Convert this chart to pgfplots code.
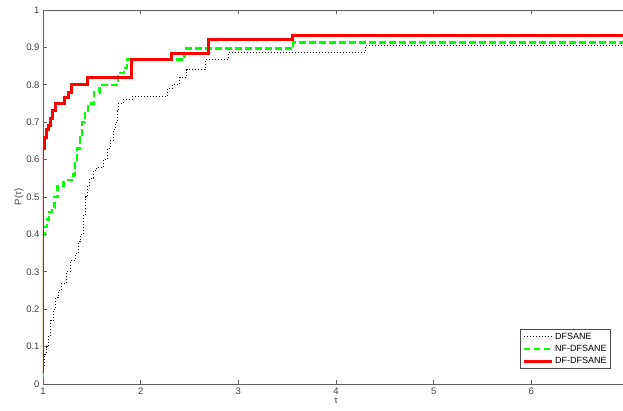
\documentclass[border=0pt]{standalone}
\usepackage{fontspec}
\setmainfont{Liberation Sans}
\usepackage{pgfplots}
\pgfplotsset{compat=1.18}
\definecolor{ticktext}{HTML}{404040}
\definecolor{axcol}{HTML}{606060}
\begin{document}
\begin{tikzpicture}
\begin{axis}[
  name=ax,
  scale only axis, width=586pt, height=374pt,
  xmin=1, xmax=7, ymin=0, ymax=1,
  xtick={1,2,3,4,5,6},
  extra x ticks={7}, extra x tick labels={},
  ytick={0,0.1,0.2,0.3,0.4,0.5,0.6,0.7,0.8,0.9,1},
  yticklabel style={/pgf/number format/fixed},
  tick align=inside, major tick length=4pt,
  tick style={draw=axcol, line width=0.6pt},
  axis line style={draw=axcol, line width=0.8pt},
  ticklabel style={font=\fontsize{9.5}{11}\selectfont, text=ticktext},
  /pgf/number format/assume math mode=true,
  xlabel={τ}, ylabel={P(τ)},
  label style={font=\fontsize{9.5}{11}\selectfont, text=ticktext},
  xlabel style={yshift=3pt},
  ylabel style={yshift=-4pt},
  legend style={at={(0.969,0.04)}, anchor=south east, font=\fontsize{9}{10}\selectfont,
    draw=black!70, line width=0.6pt, inner xsep=2pt, inner ysep=1.5pt, row sep=0.5pt, cells={anchor=west}},
  legend cell align=left,
  legend image code/.code={\draw[#1] (0pt,0pt) -- (28pt,0pt);},
]
\addplot[const plot, black, line width=1pt, dash pattern=on 1pt off 2pt] coordinates {
(1,0.02)(1.01,0.05)(1.02,0.08)(1.04,0.10)(1.06,0.13)(1.08,0.17)(1.105,0.20)(1.13,0.23)(1.155,0.25)(1.19,0.27)(1.24,0.30)(1.28,0.33)(1.33,0.35)(1.36,0.38)(1.38,0.40)(1.41,0.45)(1.44,0.50)(1.46,0.53)(1.48,0.55)(1.52,0.57)(1.55,0.58)(1.62,0.60)(1.66,0.63)(1.69,0.65)(1.72,0.68)(1.74,0.70)(1.76,0.73)(1.77,0.75)(1.82,0.76)(1.92,0.77)(2.27,0.79)(2.33,0.80)(2.40,0.82)(2.47,0.84)(2.66,0.867)(2.90,0.887)(4.30,0.904)(7,0.904)};
\addlegendentry{DFSANE}
\addplot[const plot, color={rgb,255:red,0;green,255;blue,0}, line width=2.5pt, dash pattern=on 6.5pt off 3.5pt] coordinates {
(1,0.02)(1,0.40)(1.02,0.42)(1.04,0.44)(1.06,0.46)(1.09,0.47)(1.12,0.50)(1.15,0.53)(1.21,0.545)(1.31,0.56)(1.33,0.60)(1.35,0.63)(1.38,0.66)(1.40,0.70)(1.43,0.73)(1.46,0.75)(1.52,0.78)(1.58,0.80)(1.77,0.832)(1.83,0.845)(1.86,0.867)(2.45,0.897)(3.56,0.913)(7,0.913)};
\addlegendentry{NF-DFSANE}
\addplot[const plot, color={rgb,255:red,255;green,0;blue,0}, line width=3pt] coordinates {
(1,0.03)(1,0.63)(1.02,0.66)(1.04,0.68)(1.06,0.69)(1.08,0.71)(1.10,0.73)(1.13,0.75)(1.225,0.765)(1.26,0.78)(1.29,0.80)(1.46,0.82)(1.91,0.867)(2.32,0.885)(2.69,0.92)(3.55,0.933)(7,0.933)};
\addlegendentry{DF-DFSANE}
\end{axis}
\pgfresetboundingbox
\path[use as bounding box] ([xshift=-43pt,yshift=-27pt]ax.south west) rectangle ([xshift=580pt,yshift=384pt]ax.south west);
\end{tikzpicture}
\end{document}
